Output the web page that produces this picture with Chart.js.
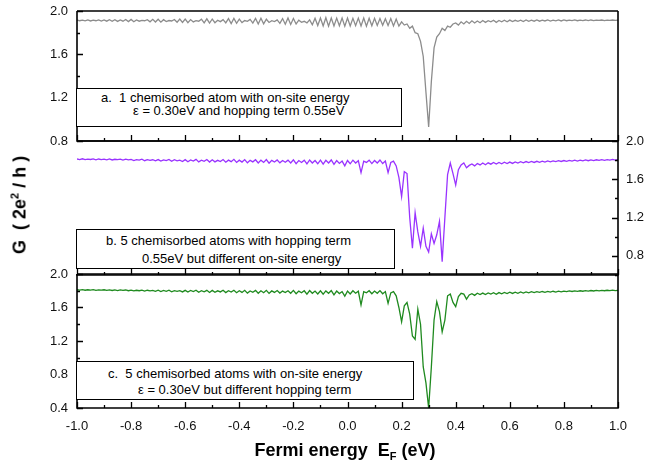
<!DOCTYPE html>
<html>
<head>
<meta charset="utf-8">
<script src="https://cdn.jsdelivr.net/npm/chart.js@4.4.1/dist/chart.umd.min.js"></script>
<style>
  body { margin: 0; background: #fff; font-family: Arial, "Liberation Sans", sans-serif; }
  #wrap { position: relative; width: 647px; height: 468px; overflow: hidden; }
  canvas { position: absolute; left: 0; }
  .note { position: absolute; box-sizing: border-box; border: 1.5px solid #000; background: #fff; font-size: 13px; color: #000; }
  .note span { position: absolute; white-space: nowrap; line-height: 15px; }
  #ytitle { position: absolute; left: 20px; top: 205px; transform: translate(-50%, -50%) rotate(-90deg);
            font-weight: bold; font-size: 18px; white-space: nowrap; }
  #xtitle { position: absolute; left: 345px; top: 440px; transform: translateX(-50%);
            font-weight: bold; font-size: 18px; white-space: nowrap; line-height: 20px; }
  sup { font-size: 11px; vertical-align: 7px; line-height: 0; }
  sub { font-size: 11px; vertical-align: -4px; line-height: 0; }
</style>
</head>
<body>
<div id="wrap">
  <canvas id="panelA" width="647" height="150" style="top:0"></canvas>
  <canvas id="panelB" width="647" height="155" style="top:130px"></canvas>
  <canvas id="panelC" width="647" height="205" style="top:263px"></canvas>

  <div class="note" style="left:76px;top:88px;width:326px;height:39px">
    <span style="left:24px;top:1px">a.&nbsp; 1 chemisorbed atom with on-site energy</span>
    <span style="left:56px;top:14px">ε = 0.30eV and hopping term 0.55eV</span>
  </div>
  <div class="note" style="left:76px;top:229px;width:319px;height:40px">
    <span style="left:29px;top:3px">b. 5 chemisorbed atoms with hopping term</span>
    <span style="left:65px;top:21px">0.55eV but different on-site energy</span>
  </div>
  <div class="note" style="left:76px;top:361px;width:338px;height:39px">
    <span style="left:31px;top:4px">c.&nbsp; 5 chemisorbed atoms with on-site energy</span>
    <span style="left:61px;top:20px">ε = 0.30eV but different hopping term</span>
  </div>

  <div id="ytitle">G&nbsp;&nbsp;( 2e<sup>2</sup> / h )</div>
  <div id="xtitle">Fermi energy&nbsp;&nbsp;E<sub>F</sub> (eV)</div>
</div>

<script>
// Fermi energy grid: -1.0 .. 1.0 eV, 0.01 eV apart (201 samples per curve)
const E_START = -1.0;
const E_STEP = 0.01;
const xTickLabels = ["-1.0", "-0.8", "-0.6", "-0.4", "-0.2", "0.0", "0.2", "0.4", "0.6", "0.8", "1.0"];

// a. one chemisorbed atom
const condA = [
  1.915,1.910,1.916,1.909,1.917,1.908,1.916,1.910,1.918,1.907,
  1.918,1.906,1.919,1.905,1.920,1.904,1.918,1.906,1.921,1.902,
  1.922,1.901,1.918,1.906,1.914,1.910,1.920,1.900,1.923,1.898,
  1.924,1.897,1.920,1.903,1.912,1.908,1.922,1.896,1.925,1.894,
  1.926,1.892,1.921,1.899,1.911,1.906,1.924,1.890,1.928,1.888,
  1.926,1.892,1.915,1.902,1.920,1.890,1.930,1.884,1.931,1.886,
  1.925,1.893,1.912,1.905,1.922,1.888,1.932,1.880,1.933,1.882,
  1.924,1.894,1.910,1.902,1.918,1.886,1.930,1.878,1.936,1.876,
  1.930,1.880,1.915,1.895,1.905,1.890,1.918,1.872,1.932,1.866,
  1.935,1.862,1.938,1.860,1.936,1.862,1.934,1.864,1.936,1.860,
  1.935,1.862,1.932,1.865,1.934,1.862,1.936,1.860,1.933,1.864,
  1.932,1.866,1.930,1.868,1.928,1.866,1.930,1.862,1.925,1.860,
  1.900,1.870,1.880,1.840,1.860,1.800,1.790,1.720,1.580,1.250,
  0.930,1.350,1.660,1.760,1.790,1.840,1.820,1.860,1.850,1.880,
  1.890,1.870,1.900,1.880,1.905,1.885,1.910,1.890,1.908,1.892,
  1.912,1.895,1.910,1.900,1.915,1.895,1.912,1.900,1.915,1.900,
  1.916,1.902,1.914,1.905,1.916,1.903,1.917,1.904,1.915,1.906,
  1.917,1.906,1.916,1.908,1.917,1.907,1.916,1.909,1.917,1.908,
  1.917,1.910,1.916,1.911,1.917,1.910,1.916,1.912,1.917,1.911,
  1.917,1.912,1.916,1.913,1.917,1.912,1.916,1.913,1.917,1.913,
  1.915
];

// b. five atoms, different on-site energy
const condB = [
  1.812,1.806,1.814,1.805,1.811,1.807,1.813,1.804,1.812,1.806,
  1.810,1.803,1.812,1.802,1.809,1.805,1.811,1.800,1.810,1.802,
  1.808,1.796,1.806,1.800,1.810,1.794,1.806,1.798,1.804,1.792,
  1.806,1.790,1.802,1.795,1.808,1.788,1.804,1.792,1.800,1.786,
  1.805,1.784,1.802,1.790,1.808,1.782,1.800,1.788,1.806,1.780,
  1.804,1.782,1.798,1.786,1.806,1.778,1.800,1.784,1.808,1.776,
  1.800,1.780,1.806,1.772,1.798,1.782,1.804,1.770,1.800,1.776,
  1.806,1.768,1.798,1.780,1.802,1.772,1.796,1.778,1.800,1.770,
  1.804,1.764,1.796,1.776,1.800,1.760,1.802,1.770,1.796,1.762,
  1.800,1.758,1.798,1.770,1.802,1.756,1.796,1.766,1.790,1.740,
  1.796,1.762,1.800,1.770,1.794,1.670,1.790,1.776,1.800,1.764,
  1.796,1.770,1.802,1.764,1.790,1.670,1.775,1.790,1.740,1.620,
  1.420,1.680,1.660,1.200,0.880,1.250,1.050,0.900,1.090,0.900,
  0.840,1.030,0.930,1.020,1.160,0.740,1.200,1.650,1.770,1.660,
  1.540,1.700,1.750,1.770,1.720,1.745,1.760,1.740,1.765,1.750,
  1.770,1.752,1.772,1.758,1.775,1.760,1.776,1.762,1.778,1.765,
  1.780,1.766,1.782,1.770,1.784,1.772,1.785,1.774,1.786,1.776,
  1.788,1.778,1.790,1.780,1.791,1.782,1.792,1.784,1.794,1.786,
  1.796,1.788,1.798,1.790,1.799,1.791,1.800,1.793,1.802,1.794,
  1.803,1.796,1.804,1.797,1.805,1.798,1.806,1.800,1.807,1.801,
  1.805
];

// c. five atoms, different hopping term
const condC = [
  1.812,1.807,1.813,1.806,1.812,1.808,1.814,1.805,1.811,1.807,
  1.812,1.804,1.810,1.803,1.811,1.802,1.810,1.804,1.809,1.800,
  1.808,1.798,1.806,1.800,1.808,1.795,1.806,1.798,1.805,1.792,
  1.806,1.790,1.803,1.794,1.807,1.788,1.802,1.792,1.801,1.786,
  1.805,1.784,1.803,1.790,1.806,1.782,1.800,1.787,1.805,1.780,
  1.804,1.782,1.799,1.786,1.806,1.778,1.801,1.784,1.806,1.776,
  1.800,1.780,1.805,1.772,1.798,1.782,1.804,1.770,1.800,1.776,
  1.805,1.768,1.798,1.780,1.802,1.772,1.796,1.778,1.800,1.770,
  1.804,1.764,1.796,1.776,1.800,1.760,1.802,1.770,1.796,1.762,
  1.800,1.758,1.798,1.770,1.802,1.750,1.796,1.766,1.790,1.735,
  1.796,1.762,1.800,1.770,1.794,1.630,1.790,1.776,1.800,1.764,
  1.796,1.770,1.802,1.764,1.790,1.650,1.775,1.790,1.740,1.600,
  1.430,1.620,1.660,1.520,1.260,1.220,1.580,1.400,0.890,0.700,
  0.400,0.890,1.450,1.670,1.550,1.310,1.450,1.740,1.760,1.660,
  1.610,1.730,1.770,1.760,1.700,1.750,1.765,1.745,1.770,1.755,
  1.772,1.755,1.774,1.760,1.776,1.758,1.778,1.764,1.779,1.766,
  1.782,1.768,1.783,1.770,1.785,1.773,1.786,1.775,1.788,1.777,
  1.789,1.780,1.791,1.782,1.792,1.783,1.794,1.785,1.795,1.787,
  1.796,1.790,1.798,1.791,1.799,1.793,1.800,1.794,1.801,1.796,
  1.803,1.797,1.804,1.798,1.805,1.800,1.806,1.801,1.807,1.802,
  1.805
];

Chart.defaults.font.family = 'Arial, "Liberation Sans", sans-serif';
Chart.defaults.font.size = 13;
Chart.defaults.color = "#111";

// box lines + inward tick marks, placed with the chart's own scales
const framePlugin = {
  id: "frame",
  afterDraw(chart, args, o) {
    const { ctx, chartArea: a } = chart;
    const x = chart.scales.x, y = chart.scales.y;
    ctx.save();
    ctx.strokeStyle = "#000";
    ctx.lineWidth = 1.6;
    ctx.beginPath();
    if (o.top) { ctx.moveTo(a.left, a.top); ctx.lineTo(a.right, a.top); }
    if (o.left) { ctx.moveTo(a.left, a.top); ctx.lineTo(a.left, a.bottom); }
    ctx.moveTo(a.right, a.top); ctx.lineTo(a.right, a.bottom);
    ctx.moveTo(a.left - 0.8, a.bottom); ctx.lineTo(a.right + 0.8, a.bottom);
    ctx.stroke();

    ctx.lineWidth = 1.3;
    ctx.beginPath();
    for (let k = 0; k <= 20; k++) {
      const px = Math.round(x.getPixelForValue(-1 + k * 0.1)) + 0.5;
      ctx.moveTo(px, a.bottom);
      ctx.lineTo(px, a.bottom - (k % 2 === 0 ? 6 : 3));
    }
    const x0 = o.ySide === "right" ? a.right : a.left;
    const dir = o.ySide === "right" ? -1 : 1;
    const n = Math.round((y.max - y.min) / 0.2);
    for (let k = 0; k <= n; k++) {
      const v = y.min + k * 0.2;
      const py = Math.round(y.getPixelForValue(v)) + 0.5;
      const major = Math.abs(v / 0.4 - Math.round(v / 0.4)) < 1e-6;
      ctx.moveTo(x0, py);
      ctx.lineTo(x0 + dir * (major ? 6 : 3), py);
    }
    ctx.stroke();
    ctx.restore();
  }
};

function noEdgePadding(s) {
  s.paddingTop = 0; s.paddingBottom = 0; s.paddingLeft = 0; s.paddingRight = 0;
}

function makePanel(id, values, color, cfg) {
  const pts = values.map((g, i) => ({ x: E_START + i * E_STEP, y: g }));
  const yAxis = {
    type: "linear",
    position: cfg.ySide,
    min: cfg.yMin,
    max: 2.0,
    grid: { display: false, drawTicks: false },
    border: { display: false },
    ticks: {
      stepSize: 0.4,
      includeBounds: false,
      padding: cfg.ySide === "right" ? 8 : 9,
      callback: v => v.toFixed(1)
    },
    afterFit: s => { s.width = cfg.ySide === "right" ? 29 : 77; noEdgePadding(s); }
  };
  const xAxis = {
    type: "linear",
    min: -1,
    max: 1,
    display: cfg.xLabels,
    grid: { display: false, drawTicks: false },
    border: { display: false },
    ticks: {
      stepSize: 0.2,
      padding: 11,
      maxRotation: 0,
      autoSkip: false,
      callback: (v, i) => xTickLabels[i]
    },
    afterFit: s => { s.height = cfg.xLabels ? 60 : 0; noEdgePadding(s); }
  };
  return new Chart(document.getElementById(id), {
    type: "line",
    data: {
      datasets: [{
        data: pts,
        borderColor: color,
        borderWidth: 1.3,
        pointRadius: 0,
        tension: 0,
        fill: false
      }]
    },
    options: {
      responsive: false,
      animation: false,
      events: [],
      layout: { padding: cfg.padding },
      plugins: {
        legend: { display: false },
        tooltip: { enabled: false },
        frame: cfg.frame
      },
      scales: { x: xAxis, y: yAxis }
    },
    plugins: [framePlugin]
  });
}

makePanel("panelA", condA, "#8c8c8c", {
  ySide: "left", yMin: 0.8, xLabels: false,
  padding: { top: 11, bottom: 9, left: 0, right: 29 },
  frame: { top: true, left: true, ySide: "left" }
});
makePanel("panelB", condB, "#9933ff", {
  ySide: "right", yMin: 0.6, xLabels: false,
  padding: { top: 11, bottom: 10, left: 77, right: 0 },
  frame: { top: true, left: false, ySide: "right" }
});
makePanel("panelC", condC, "#1f8a1f", {
  ySide: "left", yMin: 0.4, xLabels: true,
  padding: { top: 11, bottom: 0, left: 0, right: 29 },
  frame: { top: true, left: true, ySide: "left" }
});
</script>
</body>
</html>
